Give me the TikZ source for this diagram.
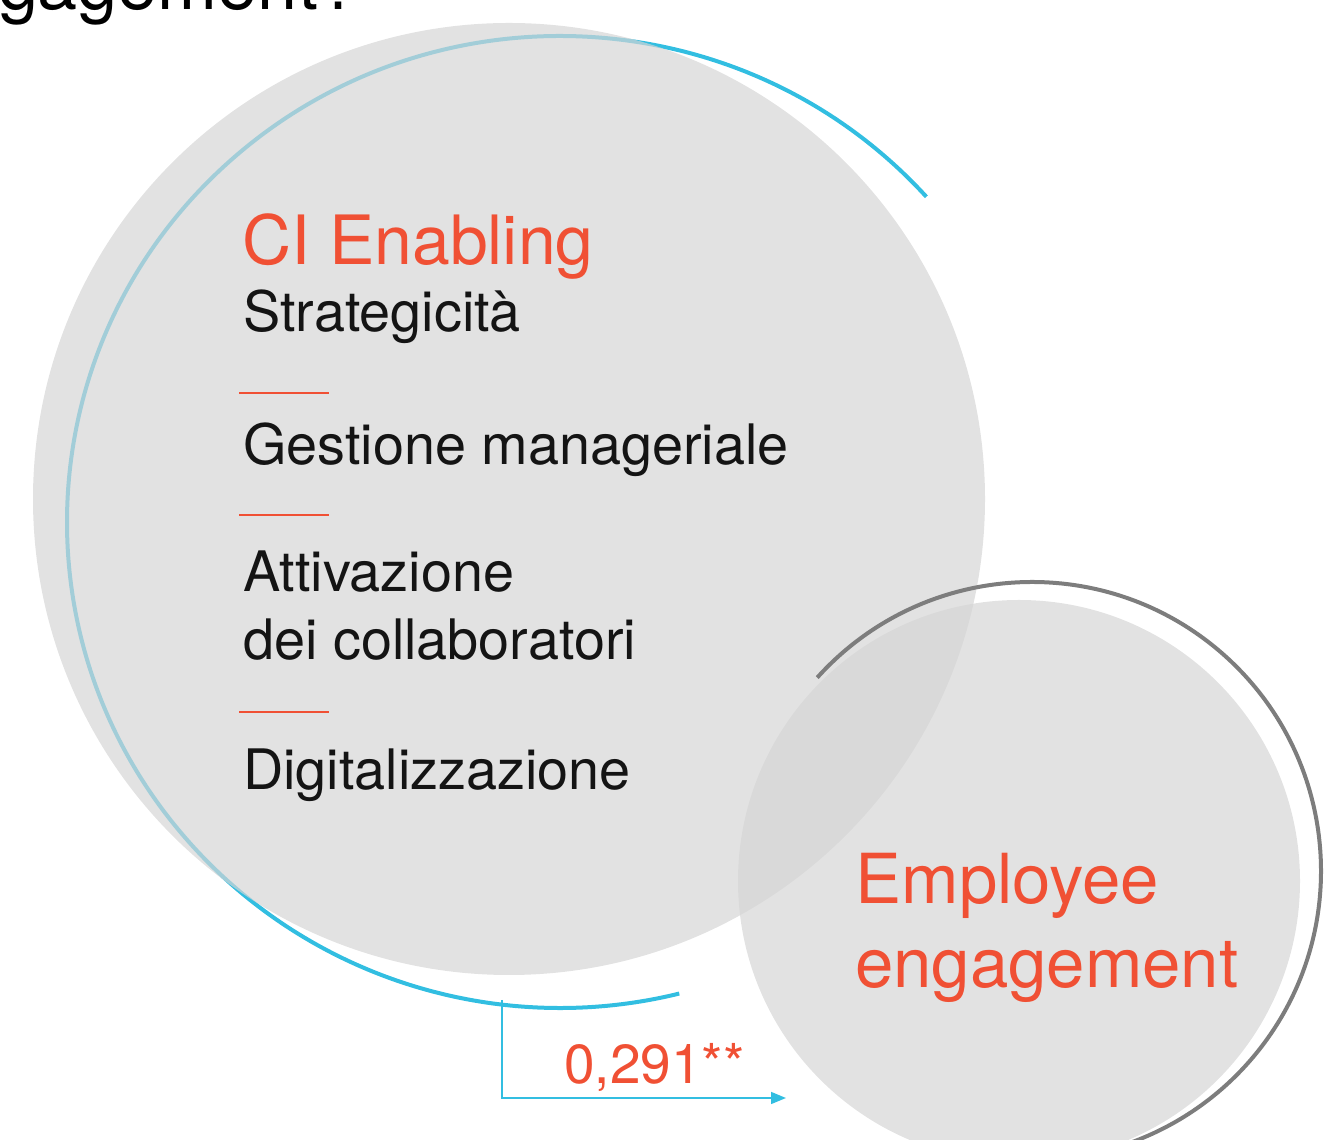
\documentclass[tikz,border=0pt]{standalone}
\usepackage{fontspec}
\setmainfont{TeX Gyre Heros}
\usetikzlibrary{arrows.meta}
\definecolor{cigray}{RGB}{213,213,213}
\definecolor{ciblue}{RGB}{50,190,225}
\definecolor{cired}{RGB}{240,80,52}
\definecolor{arcgray}{RGB}{125,125,125}
\begin{document}
\begin{tikzpicture}[x=1pt,y=1pt,
  every node/.style={inner sep=0pt,anchor=base west},
  bodytext/.style={font=\fontsize{55.8}{68}\selectfont,text=black!92},
  headtext/.style={font=\fontsize{69}{84}\selectfont,text=cired},
  divider/.style={cired,line width=2pt}]
\useasboundingbox (0,0) rectangle (1336,1140);
\clip (0,0) rectangle (1336,1140);
% rings and discs
\draw[ciblue,line width=4pt] ([shift={(42:493pt and 486pt)}]560,618) arc[start angle=42,end angle=284,x radius=493pt,y radius=486pt];
\fill[cigray,fill opacity=0.69] (509,641) circle[radius=476pt];
\fill[cigray,fill opacity=0.69] (1019,259) circle[radius=281pt];
\draw[arcgray,line width=4pt] ([shift={(138:289pt)}]1032,269) arc[start angle=138,end angle=-85,radius=289pt];
% title cut off at the top
\node[font=\fontsize{72}{80}\selectfont] (title) at (-2,1130) {gagement?};
% left disc
\node[headtext,font=\fontsize{68}{80}\selectfont] (enabling) at (242,875) {CI Enabling};
\node[bodytext] (strateg) at (243,808) {Strategicità};
\draw[divider] (239,747) -- (329,747);
\node[bodytext] (gestione) at (243,675) {Gestione manageriale};
\draw[divider] (239,625) -- (329,625);
\node[bodytext,align=left] (attivaz) at (243,480) {Attivazione\\dei collaboratori};
\draw[divider] (239,428) -- (329,428);
\node[bodytext] (digital) at (243,350) {Digitalizzazione};
% right disc
\node[headtext,align=left] (engage) at (855,152) {Employee\\engagement};
% effect
\coordinate (arrowstart) at (502,140);
\coordinate (arrowend) at (786,42);
\draw[ciblue,line width=1.5pt,-{Triangle[length=15pt,width=12pt]}] (arrowstart) |- (arrowend);
\node[font=\fontsize{55}{64}\selectfont,text=cired] (coeff) at (564,56) {0,291**};
\end{tikzpicture}
\end{document}
